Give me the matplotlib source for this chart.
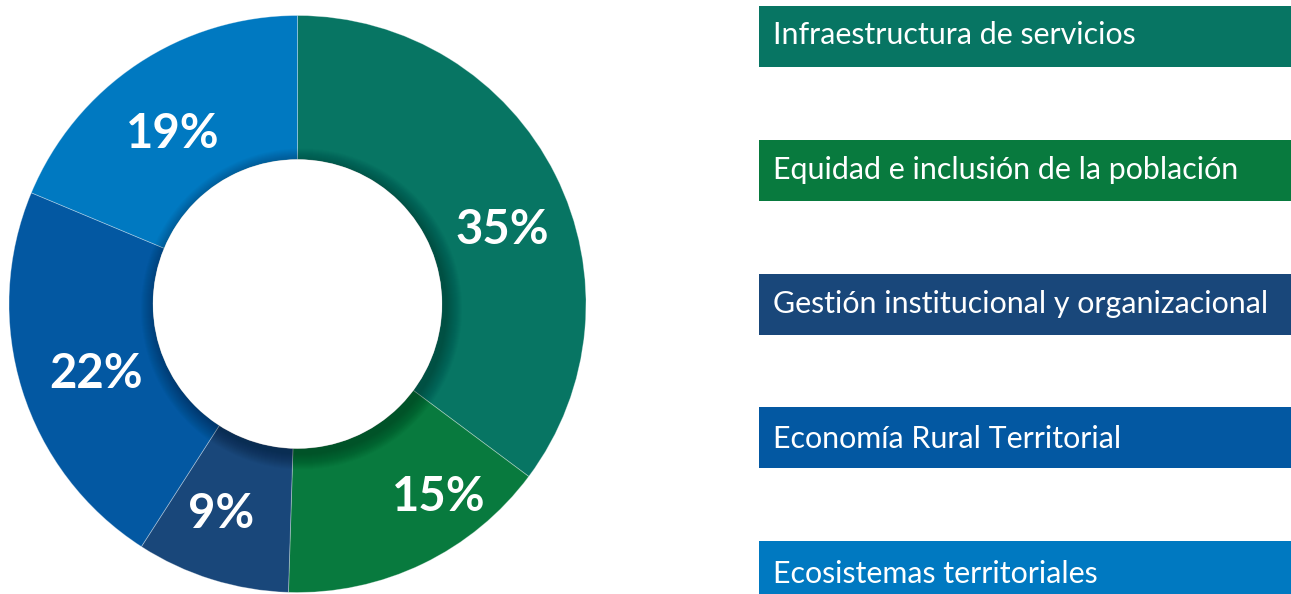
import matplotlib
matplotlib.use("Agg")
import matplotlib.pyplot as plt
from matplotlib.patches import Rectangle, Circle
import numpy as np

# ---- data ----
categories = [
    "Infraestructura de servicios",
    "Equidad e inclusión de la población",
    "Gestión institucional y organizacional",
    "Economía Rural Territorial",
    "Ecosistemas territoriales",
]
values = [35.2, 15.3, 8.6, 22.2, 18.7]
pct_labels = ["35%", "15%", "9%", "22%", "19%"]

colors = ["#077563", "#087A3E", "#19477A", "#0358A2", "#0079C1"]

W, H = 1291, 594
fig = plt.figure(figsize=(W / 100, H / 100), dpi=100)
ax = fig.add_axes([0, 0, 1, 1])

cx, cy = 297.5, 290.0
R = 288.5
r_in = 144.5

wedges, _ = ax.pie(
    values,
    colors=colors,
    startangle=90,
    counterclock=False,
    center=(cx, cy),
    radius=R,
    wedgeprops=dict(width=R - r_in, edgecolor=(1, 1, 1, 0.35), linewidth=0.6),
    frame=True,
)
ax.set_xlim(0, W)
ax.set_ylim(0, H)
ax.set_aspect("equal")
ax.axis("off")

# soft shadow around the hole
for k in range(16, 0, -1):
    ax.add_patch(Circle((cx + 4, cy - 5), r_in + k, facecolor="black",
                        alpha=0.018, edgecolor="none", zorder=3))
ax.add_patch(Circle((cx, cy), r_in, facecolor="white", edgecolor="none", zorder=4))

# percentage labels: (angle offset in degrees, radius fraction)
label_adjust = [(-6.0, 0.76), (11.0, 0.82), (-3.0, 0.765), (1.0, 0.735), (2.0, 0.74)]
pct_size = 34
cap_px = 0.72 * pct_size * 100 / 72
cum = np.cumsum([0] + values)
total = cum[-1]
for i, lab in enumerate(pct_labels):
    mid = (cum[i] + cum[i + 1]) / 2 / total * 360
    ang = np.deg2rad(90 - mid + label_adjust[i][0])
    rr = R * label_adjust[i][1]
    ax.text(cx + rr * np.cos(ang), cy + rr * np.sin(ang) - cap_px / 2, lab,
            ha="center", va="baseline", color="white", fontsize=pct_size,
            fontweight="bold", family="Lato", zorder=5)

# legend boxes
box_x0 = 759
box_w = W - box_x0
box_h = 61
for i, name in enumerate(categories):
    top = 6 + i * 133.75
    ax.add_patch(Rectangle((box_x0, H - top - box_h), box_w, box_h,
                           facecolor=colors[i], edgecolor="none", zorder=2))
    base = 44.3 + i * 134.6
    ax.text(773, H - base, name, ha="left", va="baseline", color="white",
            fontsize=21.9, family="Lato", zorder=3)

fig.savefig("out.png", dpi=100)
